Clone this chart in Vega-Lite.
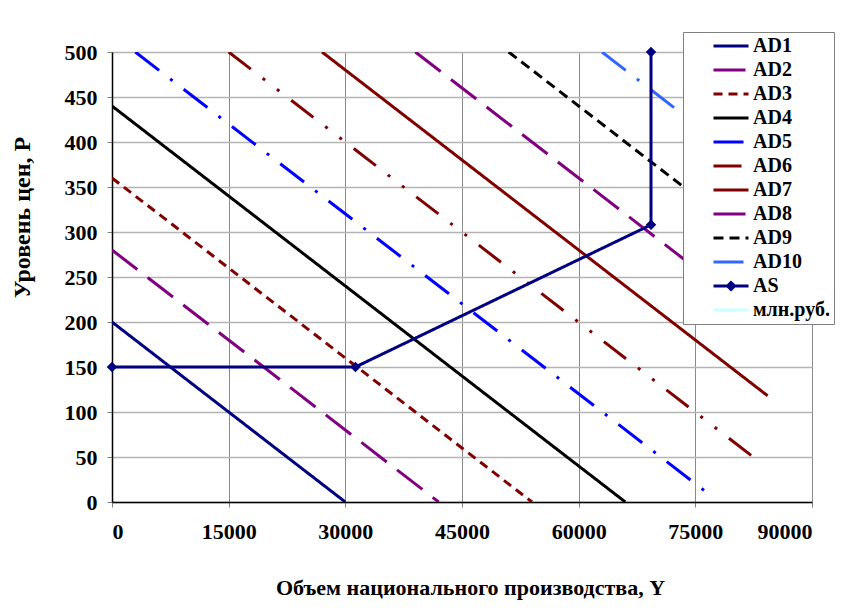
{
  "$schema": "https://vega.github.io/schema/vega-lite/v6.json",
  "width": 700,
  "height": 450,
  "autosize": {"type": "none"},
  "padding": {"left": 112, "top": 52, "right": 41, "bottom": 111},
  "background": "white",
  "config": {
    "font": "Liberation Serif",
    "view": {"stroke": null},
    "axis": {
      "labelFont": "Liberation Serif",
      "labelFontWeight": "bold",
      "labelFontSize": 22,
      "labelColor": "black",
      "titleFont": "Liberation Serif",
      "titleFontWeight": "bold",
      "titleFontSize": 22,
      "titleColor": "black",
      "domainColor": "black",
      "domainWidth": 1.5,
      "tickColor": "#808080",
      "tickSize": 5
    },
    "legend": {
      "labelFont": "Liberation Serif",
      "labelFontWeight": "bold",
      "labelFontSize": 20,
      "labelColor": "black"
    }
  },
  "datasets": {
    "lines": [
      {"series": "AD1", "i": 1, "Y": 0, "P": 200},
      {"series": "AD1", "i": 2, "Y": 30000, "P": 0},
      {"series": "AD2", "i": 1, "Y": 0, "P": 280},
      {"series": "AD2", "i": 2, "Y": 42000, "P": 0},
      {"series": "AD3", "i": 1, "Y": 0, "P": 360},
      {"series": "AD3", "i": 2, "Y": 54000, "P": 0},
      {"series": "AD4", "i": 1, "Y": 0, "P": 440},
      {"series": "AD4", "i": 2, "Y": 66000, "P": 0},
      {"series": "AD5", "i": 1, "Y": 3000, "P": 500},
      {"series": "AD5", "i": 2, "Y": 77000, "P": 7},
      {"series": "AD6", "i": 1, "Y": 15000, "P": 500},
      {"series": "AD6", "i": 2, "Y": 83500, "P": 43},
      {"series": "AD7", "i": 1, "Y": 27000, "P": 500},
      {"series": "AD7", "i": 2, "Y": 84300, "P": 118},
      {"series": "AD8", "i": 1, "Y": 39000, "P": 500},
      {"series": "AD8", "i": 2, "Y": 84000, "P": 200},
      {"series": "AD9", "i": 1, "Y": 51000, "P": 500},
      {"series": "AD9", "i": 2, "Y": 84000, "P": 280},
      {"series": "AD10", "i": 1, "Y": 63000, "P": 500},
      {"series": "AD10", "i": 2, "Y": 84000, "P": 360},
      {"series": "AS", "i": 1, "Y": 0, "P": 150},
      {"series": "AS", "i": 2, "Y": 31300, "P": 150},
      {"series": "AS", "i": 3, "Y": 69300, "P": 308},
      {"series": "AS", "i": 4, "Y": 69300, "P": 500}
    ]
  },
  "data": {"name": "lines"},
  "layer": [
    {
      "mark": {"type": "line", "strokeWidth": 3, "clip": true},
      "encoding": {
        "x": {
          "field": "Y", "type": "quantitative",
          "scale": {"domain": [0, 90000], "nice": false},
          "axis": {
            "values": [0, 15000, 30000, 45000, 60000, 75000, 90000],
            "format": "d",
            "title": "Объем национального производства, Y",
            "titleX": 358, "titleY": 85, "titleBaseline": "middle", "titleAnchor": "middle", "titleAlign": "center",
            "labelPadding": 14,
            "grid": true, "gridColor": "#8a8a8a", "gridWidth": 1
          }
        },
        "y": {
          "field": "P", "type": "quantitative",
          "scale": {"domain": [0, 500], "nice": false},
          "axis": {
            "values": [0, 50, 100, 150, 200, 250, 300, 350, 400, 450, 500],
            "title": "Уровень цен, P",
            "titleFontSize": 24,
            "titleX": -90, "titleY": 165, "titleBaseline": "middle", "titleAnchor": "middle", "titleAlign": "center", "titleAngle": -90,
            "labelPadding": 10,
            "grid": true, "gridColor": "#b4b4b4", "gridWidth": 1.5
          }
        },
        "order": {"field": "i"},
        "color": {
          "field": "series", "type": "nominal",
          "scale": {
            "domain": ["AD1", "AD2", "AD3", "AD4", "AD5", "AD6", "AD7", "AD8", "AD9", "AD10", "AS", "млн.руб."],
            "range": ["#000080", "#800080", "#800000", "#000000", "#0000ff", "#800000", "#800000", "#800080", "#000000", "#3366ff", "#000080", "#ccffff"]
          },
          "legend": {
            "title": null,
            "orient": "none",
            "legendX": 571,
            "legendY": -20,
            "fillColor": "white",
            "strokeColor": "#7f7f7f",
            "padding": 4,
            "rowPadding": 4,
            "symbolType": "M-2.5,0L2.5,0",
            "symbolSize": 196,
            "symbolStrokeWidth": 4,
            "symbolOffset": 34,
            "labelOffset": 12,
            "encode": {
              "symbols": {
                "update": {
                  "shape": {"signal": "datum.value == 'AS' ? 'M-2.5,0L2.5,0M0,-0.5L0.5,0L0,0.5L-0.5,0Z' : 'M-2.5,0L2.5,0'"},
                  "fill": {"signal": "datum.value == 'AS' ? '#000080' : 'transparent'"},
                  "strokeWidth": {"signal": "datum.value == 'млн.руб.' ? 1.5 : 4"}
                }
              }
            }
          }
        },
        "strokeDash": {
          "field": "series", "type": "nominal",
          "scale": {
            "domain": ["AD1", "AD2", "AD3", "AD4", "AD5", "AD6", "AD7", "AD8", "AD9", "AD10", "AS", "млн.руб."],
            "range": [[1, 0], [32, 13], [9, 6], [1, 0], [30, 14, 3, 14], [28, 15, 3, 15, 3, 15], [1, 0], [32, 13], [10, 6], [30, 14, 3, 14], [1, 0], [1, 0]]
          },
          "legend": null
        },
        "strokeWidth": {
          "field": "series", "type": "nominal",
          "scale": {
            "domain": ["AD1", "AD2", "AD3", "AD4", "AD5", "AD6", "AD7", "AD8", "AD9", "AD10", "AS", "млн.руб."],
            "range": [3, 3, 3, 3, 3, 3, 3, 3, 3, 3, 4, 1]
          },
          "legend": null
        }
      }
    },
    {
      "transform": [{"filter": "datum.series == 'AS'"}],
      "mark": {"type": "point", "shape": "diamond", "filled": true, "size": 110, "color": "#000080", "opacity": 1},
      "encoding": {
        "x": {"field": "Y", "type": "quantitative"},
        "y": {"field": "P", "type": "quantitative"}
      }
    }
  ]
}
